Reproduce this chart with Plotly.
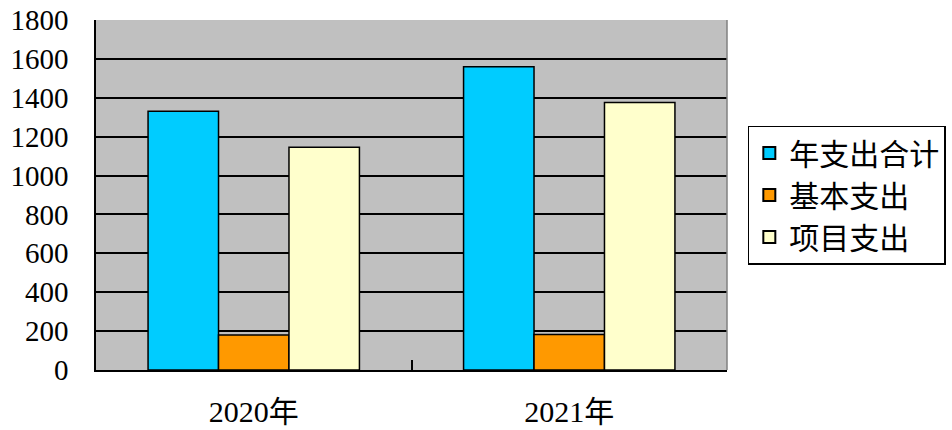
import plotly.graph_objects as go

categories = ["2020年", "2021年"]
series_names = ["年支出合计", "基本支出", "项目支出"]
total = [1331, 1560]
basic = [180, 182]
project = [1146, 1376]
colors = ["#00CCFF", "#FF9900", "#FFFFCC"]
y_ticks = [0, 200, 400, 600, 800, 1000, 1200, 1400, 1600, 1800]

FONT = "Liberation Serif, Noto Sans CJK SC"

fig = go.Figure()
for name, vals, col in zip(series_names, [total, basic, project], colors):
    fig.add_trace(go.Bar(
        x=categories, y=vals, name=name,
        marker=dict(color=col, line=dict(color="black", width=1.5)),
    ))

fig.update_layout(
    width=952, height=430,
    margin=dict(l=96, r=225, t=20, b=60, autoexpand=False),
    paper_bgcolor="white",
    plot_bgcolor="#C0C0C0",
    barmode="group",
    bargap=0.33,
    bargroupgap=0,
    font=dict(family=FONT, color="black", size=28),
    showlegend=True,
    legend=dict(
        x=1.033, xanchor="left", y=0.5, yanchor="middle",
        bordercolor="black", borderwidth=1.5, bgcolor="white",
        font=dict(family="Noto Sans CJK SC", size=30, color="black"),
        itemsizing="constant",
    ),
)
fig.update_xaxes(
    automargin=False,
    showline=True, linecolor="black", linewidth=1.5,
    ticks="inside", tickson="boundaries", ticklen=10, tickcolor="black", tickwidth=1.5,
    showgrid=False,
    tickfont=dict(family=FONT, size=30),
    ticklabelstandoff=14,
)
fig.update_yaxes(
    automargin=False,
    range=[0, 1800], tickvals=y_ticks,
    showline=True, linecolor="black", linewidth=1.5,
    ticks="inside", ticklen=8, tickcolor="black", tickwidth=1.5,
    showgrid=True, gridcolor="black", gridwidth=1.5,
    zeroline=False,
    tickfont=dict(family=FONT, size=29),
    ticklabelstandoff=20,
)
fig.add_shape(type="line", xref="paper", yref="paper", x0=1, x1=1, y0=0, y1=1,
              line=dict(color="#808080", width=1.5))

fig.write_html("out.html")
